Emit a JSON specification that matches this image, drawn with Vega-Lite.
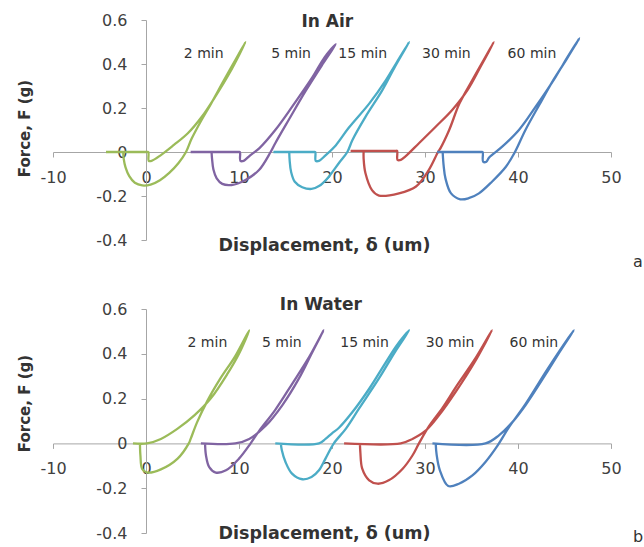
{
  "$schema": "https://vega.github.io/schema/vega-lite/v6.json",
  "background": "white",
  "autosize": {"type": "pad"},
  "padding": {"left": 17, "top": 12, "right": 0, "bottom": 0},
  "spacing": 69,
  "bounds": "flush",
  "config": {
    "view": {"stroke": null},
    "font": "DejaVu Sans",
    "axis": {
      "domainColor": "#a6a6a6", "tickColor": "#a6a6a6", "grid": false, "tickSize": 5,
      "labelFont": "DejaVu Sans", "labelFontSize": 16, "labelColor": "#404040",
      "titleFont": "DejaVu Sans", "titleFontWeight": "bold", "titleColor": "#333333",
      "labelFlush": false
    },
    "text": {"font": "DejaVu Sans"}
  },
  "datasets": {
    "air": [
      {"s":"2 min","x":-4.3,"y":0},{"s":"2 min","x":0.1,"y":0},{"s":"2 min","x":0.25,"y":0},{"s":"2 min","x":0.3,"y":-0.04},{"s":"2 min","x":0.6,"y":-0.04},{"s":"2 min","x":1.6,"y":-0.014},{"s":"2 min","x":3.0,"y":0.032},{"s":"2 min","x":4.5,"y":0.085},{"s":"2 min","x":6.0,"y":0.16},{"s":"2 min","x":7.5,"y":0.255},{"s":"2 min","x":9.0,"y":0.36},{"s":"2 min","x":10.7,"y":0.5},{"s":"2 min","x":9.5,"y":0.41},{"s":"2 min","x":8.3,"y":0.32},{"s":"2 min","x":7.0,"y":0.22},{"s":"2 min","x":5.9,"y":0.14},{"s":"2 min","x":4.9,"y":0.06},{"s":"2 min","x":4.3,"y":0},{"s":"2 min","x":3.5,"y":-0.05},{"s":"2 min","x":2.5,"y":-0.095},{"s":"2 min","x":1.5,"y":-0.128},{"s":"2 min","x":0.5,"y":-0.148},{"s":"2 min","x":-0.4,"y":-0.152},{"s":"2 min","x":-1.2,"y":-0.14},{"s":"2 min","x":-1.8,"y":-0.11},{"s":"2 min","x":-2.2,"y":-0.07},{"s":"2 min","x":-2.4,"y":-0.03},{"s":"2 min","x":-2.45,"y":0},
      {"s":"5 min","x":4.8,"y":0},{"s":"5 min","x":9.95,"y":0},{"s":"5 min","x":10.1,"y":0},{"s":"5 min","x":10.15,"y":-0.04},{"s":"5 min","x":10.5,"y":-0.04},{"s":"5 min","x":11.2,"y":-0.015},{"s":"5 min","x":12.2,"y":0.018},{"s":"5 min","x":13.9,"y":0.1},{"s":"5 min","x":15.7,"y":0.205},{"s":"5 min","x":17.9,"y":0.34},{"s":"5 min","x":19.2,"y":0.43},{"s":"5 min","x":20.4,"y":0.49},{"s":"5 min","x":19.0,"y":0.4},{"s":"5 min","x":17.2,"y":0.28},{"s":"5 min","x":15.4,"y":0.15},{"s":"5 min","x":13.9,"y":0.04},{"s":"5 min","x":13.4,"y":0},{"s":"5 min","x":12.15,"y":-0.082},{"s":"5 min","x":10.7,"y":-0.127},{"s":"5 min","x":9.2,"y":-0.15},{"s":"5 min","x":8.2,"y":-0.145},{"s":"5 min","x":7.6,"y":-0.12},{"s":"5 min","x":7.25,"y":-0.08},{"s":"5 min","x":7.1,"y":-0.03},{"s":"5 min","x":7.05,"y":0},
      {"s":"15 min","x":13.7,"y":0},{"s":"15 min","x":18.05,"y":0},{"s":"15 min","x":18.2,"y":0},{"s":"15 min","x":18.25,"y":-0.04},{"s":"15 min","x":18.6,"y":-0.04},{"s":"15 min","x":19.3,"y":-0.015},{"s":"15 min","x":20.4,"y":0.03},{"s":"15 min","x":21.8,"y":0.11},{"s":"15 min","x":24.0,"y":0.22},{"s":"15 min","x":25.8,"y":0.327},{"s":"15 min","x":27.0,"y":0.41},{"s":"15 min","x":28.3,"y":0.5},{"s":"15 min","x":26.8,"y":0.39},{"s":"15 min","x":25.4,"y":0.28},{"s":"15 min","x":23.6,"y":0.16},{"s":"15 min","x":22.2,"y":0.055},{"s":"15 min","x":21.65,"y":0},{"s":"15 min","x":20.75,"y":-0.05},{"s":"15 min","x":19.5,"y":-0.12},{"s":"15 min","x":18.6,"y":-0.155},{"s":"15 min","x":17.8,"y":-0.168},{"s":"15 min","x":16.8,"y":-0.16},{"s":"15 min","x":16.0,"y":-0.135},{"s":"15 min","x":15.6,"y":-0.09},{"s":"15 min","x":15.45,"y":-0.04},{"s":"15 min","x":15.4,"y":0},
      {"s":"30 min","x":22.0,"y":0.005},{"s":"30 min","x":26.85,"y":0.005},{"s":"30 min","x":27.0,"y":0.005},{"s":"30 min","x":27.05,"y":-0.036},{"s":"30 min","x":27.4,"y":-0.036},{"s":"30 min","x":27.9,"y":-0.02},{"s":"30 min","x":29.35,"y":0.04},{"s":"30 min","x":31.15,"y":0.115},{"s":"30 min","x":32.9,"y":0.19},{"s":"30 min","x":34.55,"y":0.28},{"s":"30 min","x":36.0,"y":0.39},{"s":"30 min","x":37.4,"y":0.5},{"s":"30 min","x":36.2,"y":0.41},{"s":"30 min","x":35.0,"y":0.32},{"s":"30 min","x":33.7,"y":0.22},{"s":"30 min","x":32.6,"y":0.1},{"s":"30 min","x":31.7,"y":0.02},{"s":"30 min","x":31.4,"y":0},{"s":"30 min","x":30.4,"y":-0.082},{"s":"30 min","x":29.0,"y":-0.158},{"s":"30 min","x":27.2,"y":-0.188},{"s":"30 min","x":25.05,"y":-0.198},{"s":"30 min","x":24.3,"y":-0.173},{"s":"30 min","x":23.6,"y":-0.097},{"s":"30 min","x":23.4,"y":-0.03},{"s":"30 min","x":23.4,"y":0.005},
      {"s":"60 min","x":31.3,"y":0},{"s":"60 min","x":36.05,"y":0},{"s":"60 min","x":36.2,"y":0},{"s":"60 min","x":36.25,"y":-0.044},{"s":"60 min","x":36.6,"y":-0.044},{"s":"60 min","x":36.9,"y":-0.025},{"s":"60 min","x":38.3,"y":0.024},{"s":"60 min","x":40.1,"y":0.1},{"s":"60 min","x":41.9,"y":0.206},{"s":"60 min","x":44.05,"y":0.342},{"s":"60 min","x":45.3,"y":0.43},{"s":"60 min","x":46.6,"y":0.517},{"s":"60 min","x":45.2,"y":0.42},{"s":"60 min","x":43.7,"y":0.32},{"s":"60 min","x":42.3,"y":0.215},{"s":"60 min","x":40.8,"y":0.1},{"s":"60 min","x":39.6,"y":-0.006},{"s":"60 min","x":38.7,"y":-0.067},{"s":"60 min","x":37.2,"y":-0.135},{"s":"60 min","x":35.8,"y":-0.188},{"s":"60 min","x":34.7,"y":-0.21},{"s":"60 min","x":33.8,"y":-0.215},{"s":"60 min","x":32.8,"y":-0.188},{"s":"60 min","x":32.2,"y":-0.12},{"s":"60 min","x":32.0,"y":-0.06},{"s":"60 min","x":31.9,"y":0}
    ],
    "water": [
      {"s":"2 min","x":-1.4,"y":0},{"s":"2 min","x":0.1,"y":0},{"s":"2 min","x":1.6,"y":0.02},{"s":"2 min","x":3.4,"y":0.066},{"s":"2 min","x":5.2,"y":0.125},{"s":"2 min","x":6.95,"y":0.2},{"s":"2 min","x":8.75,"y":0.31},{"s":"2 min","x":10.0,"y":0.4},{"s":"2 min","x":11.1,"y":0.505},{"s":"2 min","x":9.6,"y":0.39},{"s":"2 min","x":8.0,"y":0.29},{"s":"2 min","x":6.6,"y":0.19},{"s":"2 min","x":5.5,"y":0.095},{"s":"2 min","x":4.8,"y":0.02},{"s":"2 min","x":4.6,"y":0},{"s":"2 min","x":3.4,"y":-0.068},{"s":"2 min","x":1.6,"y":-0.116},{"s":"2 min","x":0.15,"y":-0.13},{"s":"2 min","x":-0.4,"y":-0.115},{"s":"2 min","x":-0.6,"y":-0.054},{"s":"2 min","x":-0.65,"y":0},
      {"s":"5 min","x":5.9,"y":0},{"s":"5 min","x":9.6,"y":0},{"s":"5 min","x":11.1,"y":0.02},{"s":"5 min","x":12.9,"y":0.08},{"s":"5 min","x":14.65,"y":0.17},{"s":"5 min","x":16.45,"y":0.29},{"s":"5 min","x":17.8,"y":0.4},{"s":"5 min","x":19.1,"y":0.505},{"s":"5 min","x":17.6,"y":0.39},{"s":"5 min","x":15.7,"y":0.265},{"s":"5 min","x":13.9,"y":0.15},{"s":"5 min","x":12.15,"y":0.055},{"s":"5 min","x":11.25,"y":0},{"s":"5 min","x":10.0,"y":-0.068},{"s":"5 min","x":8.6,"y":-0.12},{"s":"5 min","x":7.5,"y":-0.13},{"s":"5 min","x":6.8,"y":-0.106},{"s":"5 min","x":6.45,"y":-0.054},{"s":"5 min","x":6.35,"y":0},
      {"s":"15 min","x":13.9,"y":0},{"s":"15 min","x":18.6,"y":0},{"s":"15 min","x":19.3,"y":0.02},{"s":"15 min","x":20.0,"y":0.045},{"s":"15 min","x":20.75,"y":0.07},{"s":"15 min","x":22.2,"y":0.14},{"s":"15 min","x":24.0,"y":0.244},{"s":"15 min","x":25.8,"y":0.363},{"s":"15 min","x":27.0,"y":0.44},{"s":"15 min","x":28.3,"y":0.505},{"s":"15 min","x":26.8,"y":0.41},{"s":"15 min","x":25.05,"y":0.29},{"s":"15 min","x":22.9,"y":0.155},{"s":"15 min","x":21.5,"y":0.066},{"s":"15 min","x":20.2,"y":0},{"s":"15 min","x":19.3,"y":-0.068},{"s":"15 min","x":18.6,"y":-0.12},{"s":"15 min","x":17.8,"y":-0.15},{"s":"15 min","x":16.8,"y":-0.16},{"s":"15 min","x":15.7,"y":-0.135},{"s":"15 min","x":15.0,"y":-0.083},{"s":"15 min","x":14.6,"y":-0.03},{"s":"15 min","x":14.5,"y":0},
      {"s":"30 min","x":21.3,"y":0},{"s":"30 min","x":27.4,"y":0},{"s":"30 min","x":28.65,"y":0.02},{"s":"30 min","x":30.1,"y":0.058},{"s":"30 min","x":31.5,"y":0.125},{"s":"30 min","x":33.3,"y":0.23},{"s":"30 min","x":35.3,"y":0.36},{"s":"30 min","x":37.2,"y":0.505},{"s":"30 min","x":35.5,"y":0.385},{"s":"30 min","x":33.3,"y":0.25},{"s":"30 min","x":31.9,"y":0.16},{"s":"30 min","x":30.4,"y":0.075},{"s":"30 min","x":29.35,"y":0},{"s":"30 min","x":28.65,"y":-0.054},{"s":"30 min","x":27.6,"y":-0.113},{"s":"30 min","x":26.1,"y":-0.165},{"s":"30 min","x":24.9,"y":-0.18},{"s":"30 min","x":24.0,"y":-0.165},{"s":"30 min","x":23.25,"y":-0.113},{"s":"30 min","x":23.05,"y":-0.04},{"s":"30 min","x":23.0,"y":0},
      {"s":"60 min","x":30.8,"y":0},{"s":"60 min","x":36.5,"y":0},{"s":"60 min","x":37.95,"y":0.036},{"s":"60 min","x":39.4,"y":0.095},{"s":"60 min","x":40.8,"y":0.17},{"s":"60 min","x":43.0,"y":0.31},{"s":"60 min","x":44.5,"y":0.41},{"s":"60 min","x":46.0,"y":0.505},{"s":"60 min","x":44.5,"y":0.415},{"s":"60 min","x":43.0,"y":0.32},{"s":"60 min","x":40.8,"y":0.175},{"s":"60 min","x":39.0,"y":0.07},{"s":"60 min","x":37.8,"y":-0.01},{"s":"60 min","x":36.5,"y":-0.083},{"s":"60 min","x":35.1,"y":-0.143},{"s":"60 min","x":33.65,"y":-0.18},{"s":"60 min","x":32.5,"y":-0.19},{"s":"60 min","x":31.6,"y":-0.12},{"s":"60 min","x":31.25,"y":-0.05},{"s":"60 min","x":31.15,"y":0}
    ],
    "airLabels": [
      {"s":"2 min","x":6.2,"y":0.445},{"s":"5 min","x":15.6,"y":0.445},{"s":"15 min","x":23.3,"y":0.445},{"s":"30 min","x":32.3,"y":0.445},{"s":"60 min","x":41.5,"y":0.445}
    ],
    "waterLabels": [
      {"s":"2 min","x":6.6,"y":0.45},{"s":"5 min","x":14.6,"y":0.45},{"s":"15 min","x":23.5,"y":0.45},{"s":"30 min","x":32.7,"y":0.45},{"s":"60 min","x":41.7,"y":0.45}
    ]
  },
  "vconcat": [
    {
      "width": 558, "height": 220,
      "layer": [
        {
          "data": {"name": "air"},
          "mark": {"type": "line", "strokeWidth": 2.3, "strokeJoin": "round", "interpolate": "catmull-rom", "clip": false},
          "encoding": {
            "x": {"field": "x", "type": "quantitative",
              "scale": {"domain": [-10, 50], "nice": false, "zero": false},
              "axis": {"orient": "bottom", "offset": -88, "values": [-10, 0, 10, 20, 30, 40, 50], "labelPadding": 12,
                "labelExpr": "datum.value < 0 ? '-' + format(-datum.value, 'd') : format(datum.value, 'd')",
                "title": "Displacement, δ (um)", "titleFontSize": 17.5, "titleX": 271, "titleY": 93, "titleBaseline": "middle", "titleAlign": "center"}},
            "y": {"field": "y", "type": "quantitative",
              "scale": {"domain": [-0.4, 0.6], "nice": false, "zero": false},
              "axis": {"orient": "left", "offset": -93, "values": [-0.4, -0.2, 0, 0.2, 0.4, 0.6], "labelPadding": 14,
                "labelExpr": "datum.value < -0.0001 ? '-' + format(-datum.value, '.1f') : (abs(datum.value) < 0.0001 ? '0' : format(datum.value, '.1f'))",
                "title": "Force, F (g)", "titleFontSize": 15, "titleX": -122, "titleY": 108, "titleBaseline": "middle", "titleAlign": "center", "titleAngle": -90}},
            "color": {"field": "s", "type": "nominal",
              "scale": {"domain": ["2 min", "5 min", "15 min", "30 min", "60 min"], "range": ["#9bbb59", "#8064a2", "#4bacc6", "#c0504d", "#4f81bd"]},
              "legend": null},
            "order": {"value": null}
          }
        },
        {
          "data": {"name": "airLabels"},
          "mark": {"type": "text", "fontSize": 14, "color": "#333333", "align": "center", "baseline": "middle"},
          "encoding": {
            "x": {"field": "x", "type": "quantitative"},
            "y": {"field": "y", "type": "quantitative"},
            "text": {"field": "s"}
          }
        },
        {
          "data": {"values": [{"t": "In Air", "x": 19.5, "y": 0.59}]},
          "mark": {"type": "text", "fontSize": 17, "fontWeight": "bold", "color": "#333333", "align": "center", "baseline": "middle"},
          "encoding": {
            "x": {"field": "x", "type": "quantitative"},
            "y": {"field": "y", "type": "quantitative"},
            "text": {"field": "t"}
          }
        },
        {
          "data": {"values": [{"t": "a", "x": 52.9, "y": -0.5}]},
          "mark": {"type": "text", "fontSize": 16, "color": "#333333", "align": "center", "baseline": "middle"},
          "encoding": {
            "x": {"field": "x", "type": "quantitative"},
            "y": {"field": "y", "type": "quantitative"},
            "text": {"field": "t"}
          }
        }
      ]
    },
    {
      "width": 558, "height": 224,
      "layer": [
        {
          "data": {"name": "water"},
          "mark": {"type": "line", "strokeWidth": 2.3, "strokeJoin": "round", "interpolate": "catmull-rom", "clip": false},
          "encoding": {
            "x": {"field": "x", "type": "quantitative",
              "scale": {"domain": [-10, 50], "nice": false, "zero": false},
              "axis": {"orient": "bottom", "offset": -89.6, "values": [-10, 0, 10, 20, 30, 40, 50], "labelPadding": 12,
                "labelExpr": "datum.value < 0 ? '-' + format(-datum.value, 'd') : format(datum.value, 'd')",
                "title": "Displacement, δ (um)", "titleFontSize": 17.5, "titleX": 271, "titleY": 90, "titleBaseline": "middle", "titleAlign": "center"}},
            "y": {"field": "y", "type": "quantitative",
              "scale": {"domain": [-0.4, 0.6], "nice": false, "zero": false},
              "axis": {"orient": "left", "offset": -93, "values": [-0.4, -0.2, 0, 0.2, 0.4, 0.6], "labelPadding": 14,
                "labelExpr": "datum.value < -0.0001 ? '-' + format(-datum.value, '.1f') : (abs(datum.value) < 0.0001 ? '0' : format(datum.value, '.1f'))",
                "title": "Force, F (g)", "titleFontSize": 15, "titleX": -122, "titleY": 94, "titleBaseline": "middle", "titleAlign": "center", "titleAngle": -90}},
            "color": {"field": "s", "type": "nominal",
              "scale": {"domain": ["2 min", "5 min", "15 min", "30 min", "60 min"], "range": ["#9bbb59", "#8064a2", "#4bacc6", "#c0504d", "#4f81bd"]},
              "legend": null},
            "order": {"value": null}
          }
        },
        {
          "data": {"name": "waterLabels"},
          "mark": {"type": "text", "fontSize": 14, "color": "#333333", "align": "center", "baseline": "middle"},
          "encoding": {
            "x": {"field": "x", "type": "quantitative"},
            "y": {"field": "y", "type": "quantitative"},
            "text": {"field": "s"}
          }
        },
        {
          "data": {"values": [{"t": "In Water", "x": 18.8, "y": 0.616}]},
          "mark": {"type": "text", "fontSize": 17, "fontWeight": "bold", "color": "#333333", "align": "center", "baseline": "middle"},
          "encoding": {
            "x": {"field": "x", "type": "quantitative"},
            "y": {"field": "y", "type": "quantitative"},
            "text": {"field": "t"}
          }
        },
        {
          "data": {"values": [{"t": "b", "x": 52.9, "y": -0.42}]},
          "mark": {"type": "text", "fontSize": 16, "color": "#333333", "align": "center", "baseline": "middle"},
          "encoding": {
            "x": {"field": "x", "type": "quantitative"},
            "y": {"field": "y", "type": "quantitative"},
            "text": {"field": "t"}
          }
        }
      ]
    }
  ]
}
